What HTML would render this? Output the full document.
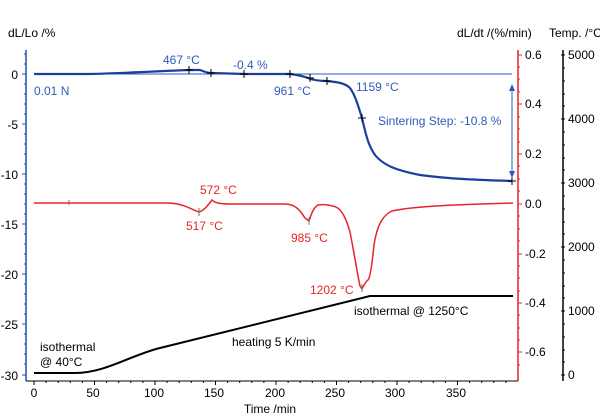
<!DOCTYPE html><html><head><style>body{margin:0;background:#fff}svg{display:block;font-family:"Liberation Sans",sans-serif}</style></head><body>
<svg width="600" height="417" viewBox="0 0 600 417">
<line x1="26" y1="50" x2="26" y2="381" stroke="#1f4fb5" stroke-width="1.5"/>
<g stroke="#1f4fb5" stroke-width="1">
<path d="M22 74h4M22 124h4M22 174h4M22 224h4M22 274h4M22 324h4M22 375h4"/>
<path d="M24 54h2M24 64h2M24 84h2M24 94h2M24 104h2M24 114h2M24 134h2M24 144h2M24 154h2M24 164h2M24 184h2M24 194h2M24 204h2M24 214h2M24 234h2M24 244h2M24 254h2M24 264h2M24 284h2M24 294h2M24 304h2M24 314h2M24 334h2M24 344h2M24 354h2M24 364h2"/>
</g>
<g font-size="12" fill="#000" text-anchor="end">
<text x="18" y="79">0</text><text x="18" y="129">-5</text><text x="18" y="179">-10</text><text x="18" y="229">-15</text><text x="18" y="279">-20</text><text x="18" y="329">-25</text><text x="18" y="380">-30</text>
</g>
<text x="8" y="37" font-size="12">dL/Lo /%</text>
<line x1="26" y1="381" x2="518" y2="381" stroke="#000" stroke-width="1"/>
<g stroke="#000"><path d="M34 381v4M94.5 381v4M155 381v4M215.5 381v4M276 381v4M336.5 381v4M397 381v4M457.5 381v4"/>
<path d="M46.1 381v2M58.2 381v2M70.3 381v2M82.4 381v2M106.6 381v2M118.7 381v2M130.8 381v2M142.9 381v2M167.1 381v2M179.2 381v2M191.3 381v2M203.4 381v2M227.6 381v2M239.7 381v2M251.8 381v2M263.9 381v2M288.1 381v2M300.2 381v2M312.3 381v2M324.4 381v2M348.6 381v2M360.7 381v2M372.8 381v2M384.9 381v2M409.1 381v2M421.2 381v2M433.3 381v2M445.4 381v2M469.6 381v2M481.7 381v2M493.8 381v2M505.9 381v2"/></g>
<g font-size="12" text-anchor="middle">
<text x="34" y="397">0</text><text x="93" y="397">50</text><text x="154" y="397">100</text><text x="214" y="397">150</text><text x="275" y="397">200</text><text x="335" y="397">250</text><text x="395" y="397">300</text><text x="456" y="397">350</text>
<text x="270" y="413">Time /min</text>
</g>
<line x1="518" y1="50" x2="518" y2="381" stroke="#e8232c" stroke-width="1.5"/>
<g stroke="#e8232c"><path d="M518 55h4M518 104h4M518 154h4M518 204h4M518 254h4M518 303h4M518 352h4"/>
<path d="M518 67h2M518 79h2M518 92h2M518 117h2M518 129h2M518 142h2M518 166h2M518 179h2M518 191h2M518 216h2M518 229h2M518 241h2M518 266h2M518 278h2M518 291h2M518 315h2M518 328h2M518 340h2M518 365h2"/></g>
<g font-size="12"><text x="525" y="59">0.6</text><text x="525" y="108">0.4</text><text x="525" y="158">0.2</text><text x="525" y="208">0.0</text><text x="525" y="258">-0.2</text><text x="525" y="307">-0.4</text><text x="525" y="356">-0.6</text></g>
<text x="457" y="37" font-size="12">dL/dt /(%/min)</text>
<line x1="563" y1="50" x2="563" y2="381" stroke="#000" stroke-width="1.5"/>
<g stroke="#000"><path d="M561 55h4M561 119h4M561 183h4M561 247h4M561 311h4M561 375h4"/>
<path d="M563 68h2M563 81h2M563 94h2M563 106h2M563 132h2M563 145h2M563 158h2M563 170h2M563 196h2M563 209h2M563 222h2M563 234h2M563 260h2M563 273h2M563 286h2M563 298h2M563 324h2M563 337h2M563 350h2M563 362h2"/></g>
<g font-size="12"><text x="568" y="59">5000</text><text x="568" y="123">4000</text><text x="568" y="187">3000</text><text x="568" y="251">2000</text><text x="568" y="315">1000</text><text x="568" y="379">0</text></g>
<text x="549" y="37" font-size="12">Temp. /°C</text>
<line x1="34" y1="74" x2="512" y2="74" stroke="#2d5bbd" stroke-width="1"/>
<path d="M34 74 L90 74 C130 73 160 71 189 70 L200 70 C205 72 208 73 211 73 L245 74 L290 74 C298 75 303 76 308 78 C313 80 320 81 327 81 C337 82 345 83 350 88 C355 95 358 105 362 118 C366 135 368 145 375 155 C383 165 395 170 420 175 C450 179 480 180 512 181" fill="none" stroke="#1b3fa0" stroke-width="2.2"/>
<g stroke="#000" stroke-width="1"><path d="M189 66v8M185 70h8M211 69v8M207 73h8M244 70v8M240 74h8M290 70v8M286 74h8M310 74v8M306 78h8M327 77v8M323 81h8M362 114v8M358 118h8M512 177v8M508 181h8"/></g>
<line x1="512" y1="86" x2="512" y2="176" stroke="#2d5bbd" stroke-width="1"/>
<path d="M512 84l-3 7h6zM512 178l-3-7h6z" fill="#2d5bbd"/>
<g font-size="12" fill="#2d5bbd"><text x="163" y="64">467 °C</text><text x="233" y="69">-0.4 %</text><text x="34" y="95">0.01 N</text><text x="274" y="95">961 °C</text><text x="356" y="91">1159 °C</text><text x="378" y="125">Sintering Step: -10.8 %</text></g>
<path d="M34 203 L170 203 C185 204 192 210 199 212 C205 210 208 205 212 200 C215 203 220 204 230 204 L285 204 C295 204 300 210 305 218 L309 221 C311 215 313 208 318 205 C325 204 330 205 336 207 C342 210 346 218 350 232 C354 252 357 272 360 286 L362 289 C364 285 366 281 368 280 C370 278 372 265 374 245 C377 225 383 215 392 211 C410 207 440 205 513 203" fill="none" stroke="#e8232c" stroke-width="1.5"/>
<g stroke="#777" stroke-width="1"><path d="M199 208v8M309 217v8M362 284v8M69 200v5"/></g>
<g font-size="12" fill="#e8232c"><text x="200" y="194">572 °C</text><text x="186" y="230">517 °C</text><text x="291" y="242">985 °C</text><text x="310" y="294">1202 °C</text></g>
<path d="M34 373 L75 373 C105 373 130 355.4 160 348 L370 296 L513 296" fill="none" stroke="#000" stroke-width="2"/>
<g font-size="12" fill="#000"><text x="354" y="315">isothermal @ 1250°C</text><text x="232" y="346">heating 5 K/min</text><text x="40" y="351">isothermal</text><text x="40" y="366">@ 40°C</text></g>
</svg>
</body></html>
